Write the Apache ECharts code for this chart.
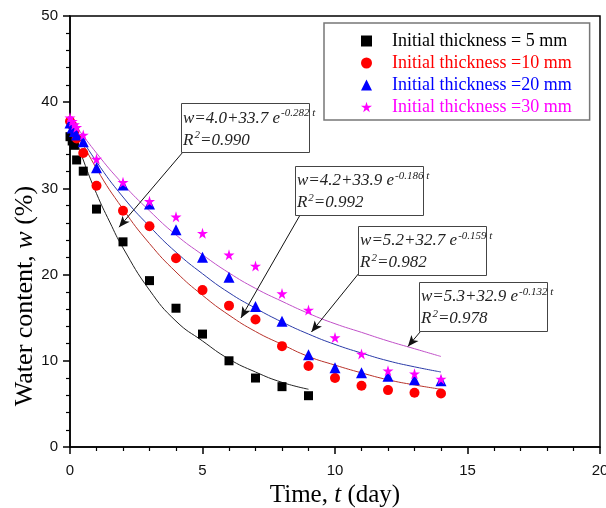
<!DOCTYPE html>
<html><head><meta charset="utf-8">
<script src="https://cdn.jsdelivr.net/npm/echarts@6/dist/echarts.min.js"></script>
<style>html,body{margin:0;padding:0;background:#fff}#c{width:606px;height:508px}</style>
</head><body><div id="c"></div>
<script>
// ---- data ----
const legendNames = ['Initial thickness = 5 mm','Initial thickness =10 mm','Initial thickness =20 mm','Initial thickness =30 mm'];
const t5 = [0, 0.083, 0.167, 0.25, 0.5, 1, 2, 3, 4, 5, 6, 7, 8, 9];
const w5 = [36.0, 35.5, 35.0, 33.3, 32.0, 27.6, 23.8, 19.3, 16.1, 13.1, 10.0, 8.0, 7.0, 5.95];
const tLong = [0, 0.083, 0.167, 0.25, 0.5, 1, 2, 3, 4, 5, 6, 7, 8, 9, 10, 11, 12, 13, 14];
const w10 = [37.8, 37.3, 36.7, 35.8, 34.1, 30.3, 27.4, 25.6, 21.9, 18.2, 16.4, 14.8, 11.7, 9.4, 8.0, 7.1, 6.6, 6.3, 6.2];
const w20 = [37.6, 37.0, 36.6, 36.2, 35.4, 32.4, 30.4, 28.2, 25.2, 22.0, 19.7, 16.3, 14.6, 10.7, 9.2, 8.6, 8.2, 7.8, 7.7];
const w30 = [38.2, 37.8, 37.4, 37.1, 36.2, 33.4, 30.7, 28.5, 26.7, 24.8, 22.3, 21.0, 17.8, 15.9, 12.7, 10.8, 8.85, 8.5, 7.9];
// fitted curves, values
const fitT5 = [0, 0.5, 1, 1.5, 2, 3, 4, 5, 6, 7, 8, 9];
const fit5 = [37.7, 33.3, 29.4, 26.1, 23.1, 18.2, 14.6, 12.3, 10.2, 8.7, 7.5, 6.7];
const fitT = [0, 1, 2, 3, 4, 5, 6, 7, 8, 9, 10, 11, 12, 13, 14];
const fit10 = [38.1, 32.3, 27.6, 23.6, 20.3, 17.6, 15.3, 13.4, 11.9, 10.5, 9.5, 8.6, 7.8, 7.2, 6.7];
const fit20 = [37.9, 33.1, 29.0, 25.6, 22.6, 20.1, 17.9, 16.1, 14.5, 13.1, 11.9, 10.9, 10.0, 9.3, 8.7];
const fit30 = [38.2, 34.1, 30.5, 27.4, 24.6, 22.3, 20.2, 18.4, 16.9, 15.5, 14.3, 13.3, 12.3, 11.4, 10.5];
// annotations: box anchor (data coords), equation text, arrow from/to (data coords)
const noteEq = ['w=4.0+33.7 e', 'w=4.2+33.9 e', 'w=5.2+32.7 e', 'w=5.3+32.9 e'];
const noteExp = ['-0.282 t', '-0.186 t', '-0.159 t', '-0.132 t'];
const noteR2 = ['=0.990', '=0.992', '=0.982', '=0.978'];
const noteAnchor = [[4.19, 39.9], [8.49, 32.6], [10.87, 25.64], [13.17, 19.14]];
const arrowFrom = [[4.23, 34.1], [8.68, 26.9], [10.91, 20.19], [13.21, 13.34]];
const arrowTo = [[1.85, 25.5], [6.45, 14.97], [9.11, 13.34], [12.75, 11.66]];
const xTicks = [0, 5, 10, 15, 20];
const yTicks = [0, 10, 20, 30, 40, 50];

const STAR = 'path://M50,0 L61,35 L98,35 L68,57 L79,91 L50,70 L21,91 L32,57 L2,35 L39,35 Z';
const pairs = (xs, ys) => xs.map((x, i) => [x, ys[i]]);

const chart = echarts.init(document.getElementById('c'), null, {renderer: 'canvas'});
const serif = 'Liberation Serif';
const axisCommon = {
  type: 'value',
  axisLine: {show: true, onZero: false, lineStyle: {color: '#000', width: 1.5}},
  axisTick: {show: true, length: 7, lineStyle: {color: '#000', width: 1.5}},
  minorTick: {show: true, splitNumber: 5, length: 4, lineStyle: {color: '#000', width: 1.2}},
  splitLine: {show: false},
  nameTextStyle: {fontFamily: serif, fontSize: 25, color: '#000',
    rich: {i: {fontFamily: serif, fontSize: 25, fontStyle: 'italic', color: '#000'}}}
};
const curve = (xs, ys, color) => ({
  type: 'line', data: pairs(xs, ys), smooth: 0.5, showSymbol: false, symbol: 'none',
  lineStyle: {color: color, width: 1}, z: 1, silent: true
});
const scat = (name, xs, ys, symbol, size, color) => ({
  type: 'scatter', name: name, data: pairs(xs, ys), symbol: symbol, symbolSize: size,
  itemStyle: {color: color, opacity: 1}, z: 3
});
const markData = arrowFrom.map((f, i) => [{coord: f}, {coord: arrowTo[i]}]);

chart.setOption({
  animation: false,
  grid: {left: 70, right: 6, top: 16, bottom: 61, show: true, borderColor: '#000', borderWidth: 1.5,
    backgroundColor: 'transparent', containLabel: false, outerBoundsMode: 'none'},
  xAxis: Object.assign({}, axisCommon, {
    min: xTicks[0], max: xTicks[xTicks.length - 1], interval: xTicks[1] - xTicks[0],
    axisLabel: {margin: 16, color: '#111', fontSize: 15, fontFamily: 'Liberation Sans'},
    name: 'Time, {i|t} (day)', nameLocation: 'middle', nameGap: 36
  }),
  yAxis: Object.assign({}, axisCommon, {
    min: yTicks[0], max: yTicks[yTicks.length - 1], interval: yTicks[1] - yTicks[0],
    axisLabel: {margin: 12, color: '#111', fontSize: 15, fontFamily: 'Liberation Sans'}
  }),
  legend: {
    orient: 'vertical', left: 324, top: 23,
    padding: [9, 18, 4, 37], itemWidth: 11, itemHeight: 11, itemGap: 4,
    borderColor: '#777', borderWidth: 1.5, backgroundColor: '#fff',
    textStyle: {fontFamily: serif, fontSize: 18, padding: [0, 0, 0, 15]},
    data: [
      {name: legendNames[0], textStyle: {color: '#000'}},
      {name: legendNames[1], textStyle: {color: '#ff0000'}},
      {name: legendNames[2], textStyle: {color: '#0000ff'}},
      {name: legendNames[3], textStyle: {color: '#ff00ff'}}
    ]
  },
  series: [
    curve(fitT5, fit5, '#222'),
    curve(fitT, fit10, '#b8322a'),
    curve(fitT, fit20, '#2a3aa8'),
    curve(fitT, fit30, '#c050c8'),
    scat(legendNames[0], t5, w5, 'rect', 9, '#000'),
    scat(legendNames[1], tLong, w10, 'circle', 10, '#ff0000'),
    scat(legendNames[2], tLong, w20, 'triangle', 11, '#0000ff'),
    scat(legendNames[3], tLong, w30, STAR, 11, '#ff00ff'),
    {
      type: 'line', data: [], silent: true,
      markLine: {
        silent: true, symbol: ['none', 'arrow'], symbolSize: [7, 11],
        lineStyle: {color: '#111', width: 1, type: 'solid'},
        label: {show: false}, emphasis: {disabled: true},
        data: markData
      }
    }
  ]
});

const g = [];
g.push({
  type: 'text', x: 25, y: 296, rotation: Math.PI / 2, z: 10,
  style: {text: 'Water content, {i|w} (%)', fontFamily: serif, fontSize: 26, fill: '#000',
    align: 'center', verticalAlign: 'middle',
    rich: {i: {fontFamily: serif, fontSize: 26, fontStyle: 'italic', fill: '#000'}}}
});
noteAnchor.forEach((a, i) => {
  const p = chart.convertToPixel({gridIndex: 0}, a);
  g.push({type: 'rect', z: 10, shape: {x: Math.round(p[0]) + 0.5, y: Math.round(p[1]) + 0.5, width: 128, height: 49},
    style: {fill: '#fff', stroke: '#444', lineWidth: 1}});
  g.push({type: 'text', z: 11, x: p[0] + 2, y: p[1] + 4,
    style: {
      text: '{i|' + noteEq[i] + '}{s|' + noteExp[i] + '}\n{i|R}{s|2}{i|' + noteR2[i] + '}',
      fill: '#222',
      rich: {
        i: {fontFamily: serif, fontSize: 17, fontStyle: 'italic', fill: '#222', lineHeight: 22, verticalAlign: 'middle'},
        s: {fontFamily: serif, fontSize: 11, fontStyle: 'italic', fill: '#222', lineHeight: 22, verticalAlign: 'top', padding: [1, 0, 0, 1]}
      }
    }});
});
chart.setOption({graphic: g});
</script></body></html>
